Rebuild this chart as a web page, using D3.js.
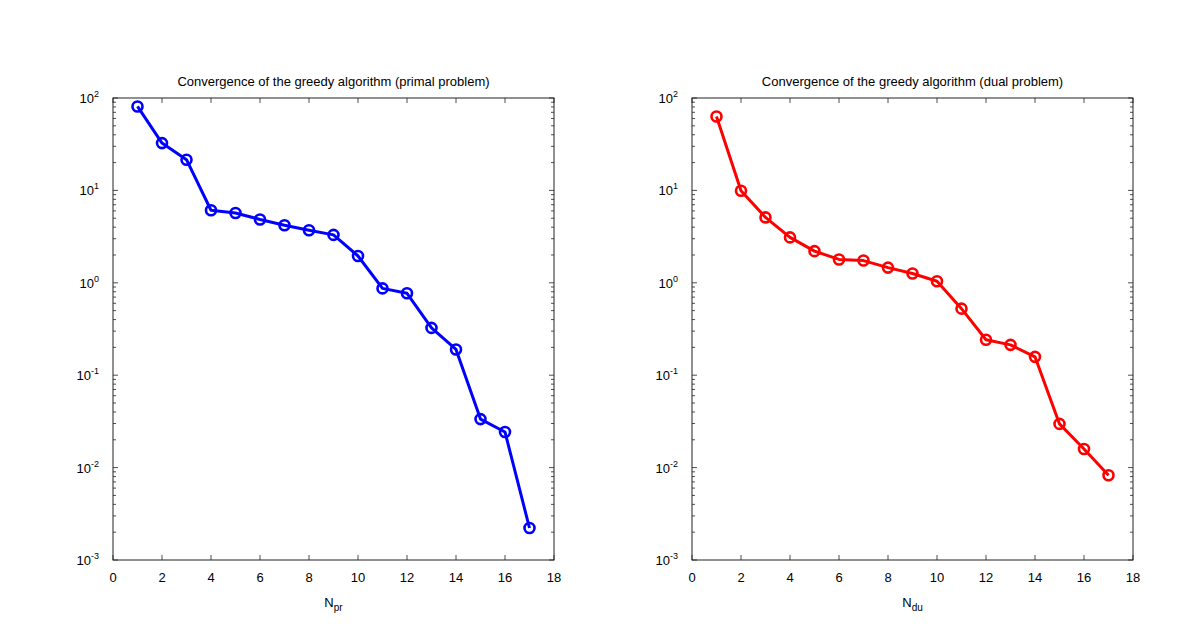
<!DOCTYPE html>
<html>
<head>
<meta charset="utf-8">
<script src="https://cdn.jsdelivr.net/npm/d3@7"></script>
<style>
  body { margin: 0; background: #fff; }
  svg { display: block; font-family: "Liberation Sans", Arial, sans-serif; }
</style>
</head>
<body>
<svg id="chart" width="1200" height="643"></svg>
<script>
// data
const iterations = [1, 2, 3, 4, 5, 6, 7, 8, 9, 10, 11, 12, 13, 14, 15, 16, 17];
const primalErrors = [81, 32.5, 21.5, 6.1, 5.7, 4.85, 4.2, 3.7, 3.3, 1.95, 0.87, 0.77, 0.325, 0.19, 0.0335, 0.0243, 0.00222];
const dualErrors = [63, 9.9, 5.1, 3.1, 2.2, 1.79, 1.74, 1.46, 1.26, 1.04, 0.525, 0.242, 0.213, 0.158, 0.0297, 0.0159, 0.00825];
const xTicks = [0, 2, 4, 6, 8, 10, 12, 14, 16, 18];
const yDecades = [-3, -2, -1, 0, 1, 2];

const svg = d3.select("#chart");

function drawPanel(left, title, xMain, xSub, values, color) {
    const width = 441, top = 98, height = 462;
    const g = svg.append("g").attr("transform", `translate(${left},${top})`);

    const x = d3.scaleLinear().domain([0, 18]).range([0, width]);
    const y = d3.scaleLog().domain([1e-3, 1e2]).range([height, 0]);

    // minor ticks of the log axis (inside, left and right)
    const minor = [];
    yDecades.slice(0, -1).forEach(e => {
        for (let k = 2; k <= 9; k++) minor.push(k * Math.pow(10, e));
    });
    minor.forEach(v => {
        g.append("line").attr("x1", 0).attr("x2", 3).attr("y1", y(v)).attr("y2", y(v))
            .attr("stroke", "#222").attr("stroke-width", 0.8);
        g.append("line").attr("x1", width).attr("x2", width - 3).attr("y1", y(v)).attr("y2", y(v))
            .attr("stroke", "#222").attr("stroke-width", 0.8);
    });

    // major y ticks + labels
    yDecades.forEach(e => {
        const yy = y(Math.pow(10, e));
        g.append("line").attr("x1", 0).attr("x2", 5).attr("y1", yy).attr("y2", yy)
            .attr("stroke", "#222").attr("stroke-width", 0.8);
        g.append("line").attr("x1", width).attr("x2", width - 5).attr("y1", yy).attr("y2", yy)
            .attr("stroke", "#222").attr("stroke-width", 0.8);
        const t = g.append("text").attr("x", -14).attr("y", yy + 5)
            .attr("text-anchor", "end").attr("font-size", 13).attr("fill", "#000");
        t.append("tspan").text("10");
        t.append("tspan").attr("dy", -6).attr("font-size", 9).text(e);
    });

    // x ticks (bottom and top, inside)
    xTicks.forEach(v => {
        const xx = x(v);
        g.append("line").attr("x1", xx).attr("x2", xx).attr("y1", height).attr("y2", height - 5)
            .attr("stroke", "#222").attr("stroke-width", 0.8);
        g.append("line").attr("x1", xx).attr("x2", xx).attr("y1", 0).attr("y2", 5)
            .attr("stroke", "#222").attr("stroke-width", 0.8);
        g.append("text").attr("x", xx).attr("y", height + 22)
            .attr("text-anchor", "middle").attr("font-size", 13).attr("fill", "#000").text(v);
    });

    // box
    g.append("rect").attr("width", width).attr("height", height)
        .attr("fill", "none").attr("stroke", "#222").attr("stroke-width", 1);

    // line + markers
    const pts = iterations.map((n, i) => [n, values[i]]);
    g.append("path").datum(pts)
        .attr("fill", "none").attr("stroke", color).attr("stroke-width", 3)
        .attr("stroke-linejoin", "round")
        .attr("d", d3.line().x(d => x(d[0])).y(d => y(d[1])));
    g.selectAll("circle.mk").data(pts).enter().append("circle")
        .attr("class", "mk")
        .attr("cx", d => x(d[0])).attr("cy", d => y(d[1])).attr("r", 5)
        .attr("fill", "none").attr("stroke", color).attr("stroke-width", 2.6);

    // title
    g.append("text").attr("x", width / 2).attr("y", -12)
        .attr("text-anchor", "middle").attr("font-size", 13).attr("fill", "#000").text(title);

    // x label with subscript
    const xl = g.append("text").attr("x", width / 2).attr("y", height + 47)
        .attr("text-anchor", "middle").attr("font-size", 13).attr("fill", "#000");
    xl.append("tspan").text(xMain);
    xl.append("tspan").attr("dy", 4).attr("font-size", 10).text(xSub);
}

drawPanel(113, "Convergence of the greedy algorithm (primal problem)", "N", "pr", primalErrors, "#0000ff");
drawPanel(692, "Convergence of the greedy algorithm (dual problem)", "N", "du", dualErrors, "#ff0000");
</script>
</body>
</html>
